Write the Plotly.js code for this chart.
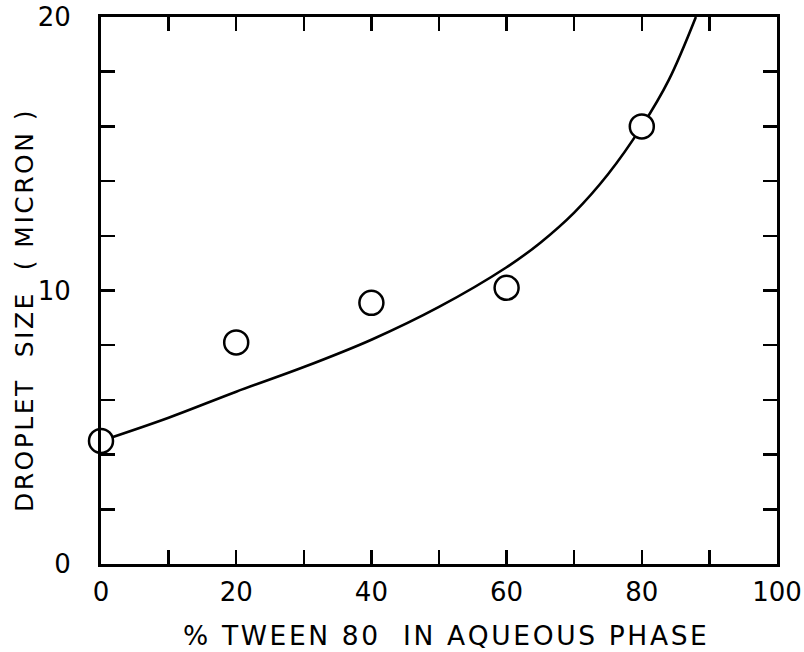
<!DOCTYPE html>
<html>
<head>
<meta charset="utf-8">
<script src="https://cdn.plot.ly/plotly-3.0.1.min.js"></script>
<style>html,body{margin:0;padding:0;background:#fff;}#chart{width:804px;height:652px;}</style>
</head>
<body>
<div id="chart"></div>
<script>
// Measured data points (open circles)
const pointX = [0, 20, 40, 60, 80];
const pointY = [4.5, 8.1, 9.55, 10.1, 16.0];

// Fitted curve
const curveX = [0, 10, 20, 30, 40, 50, 60, 65, 70, 75, 80, 84, 88];
const curveY = [4.5, 5.35, 6.3, 7.2, 8.2, 9.4, 10.85, 11.75, 12.85, 14.25, 16.0, 17.7, 20];

// Axis ticks
const xTickVals = [0, 10, 20, 30, 40, 50, 60, 70, 80, 90, 100];
const xTickText = ["0", "", "20", "", "40", "", "60", "", "80", "", "100"];
const yTickVals = [0, 2, 4, 6, 8, 10, 12, 14, 16, 18, 20];
const yTickText = ["0", "", "", "", "", "10", "", "", "", "", "20"];

const xTitle = "% TWEEN 80  IN AQUEOUS PHASE";
const yTitle = "DROPLET  SIZE  ( MICRON )";

const FONT = "DejaVu Sans, Arial, sans-serif";
const spaced = s => s.split("").join("\u200A");

const traces = [
  {
    x: curveX, y: curveY, type: "scatter", mode: "lines",
    line: {color: "#000", width: 2.6, shape: "spline", smoothing: 1},
    hoverinfo: "skip", showlegend: false, cliponaxis: true
  },
  {
    x: pointX, y: pointY, type: "scatter", mode: "markers",
    marker: {symbol: "circle", size: 24, color: "#fff", line: {color: "#000", width: 2.5}},
    showlegend: false, cliponaxis: false
  }
];

const axisCommon = {
  showline: true, linecolor: "#000", linewidth: 3, mirror: "ticks",
  ticks: "inside", ticklen: 14, tickwidth: 2.5, tickcolor: "#000",
  showgrid: false, zeroline: false,
  tickfont: {family: FONT, size: 26, color: "#000"},
  tickmode: "array", fixedrange: true
};

const layout = {
  width: 804, height: 652,
  margin: {l: 101, r: 27, t: 17, b: 88},
  paper_bgcolor: "#fff", plot_bgcolor: "#fff",
  showlegend: false,
  xaxis: Object.assign({}, axisCommon, {
    range: [0, 100], tickvals: xTickVals, ticktext: xTickText,
    ticklabelstandoff: 3
  }),
  yaxis: Object.assign({}, axisCommon, {
    range: [0, 20], tickvals: yTickVals, ticktext: yTickText,
    ticklabelstandoff: 22
  }),
  annotations: [
    {
      text: spaced(xTitle), xref: "paper", yref: "paper",
      x: 0.509, y: -0.1316, xanchor: "center", yanchor: "middle",
      showarrow: false, font: {family: FONT, size: 26.5, color: "#000"}
    },
    {
      text: spaced(yTitle), xref: "paper", yref: "paper",
      x: -0.1139, y: 0.4625, xanchor: "center", yanchor: "middle",
      textangle: -90, showarrow: false, font: {family: FONT, size: 25, color: "#000"}
    }
  ]
};

Plotly.newPlot("chart", traces, layout, {displayModeBar: false, staticPlot: true});
</script>
</body>
</html>
